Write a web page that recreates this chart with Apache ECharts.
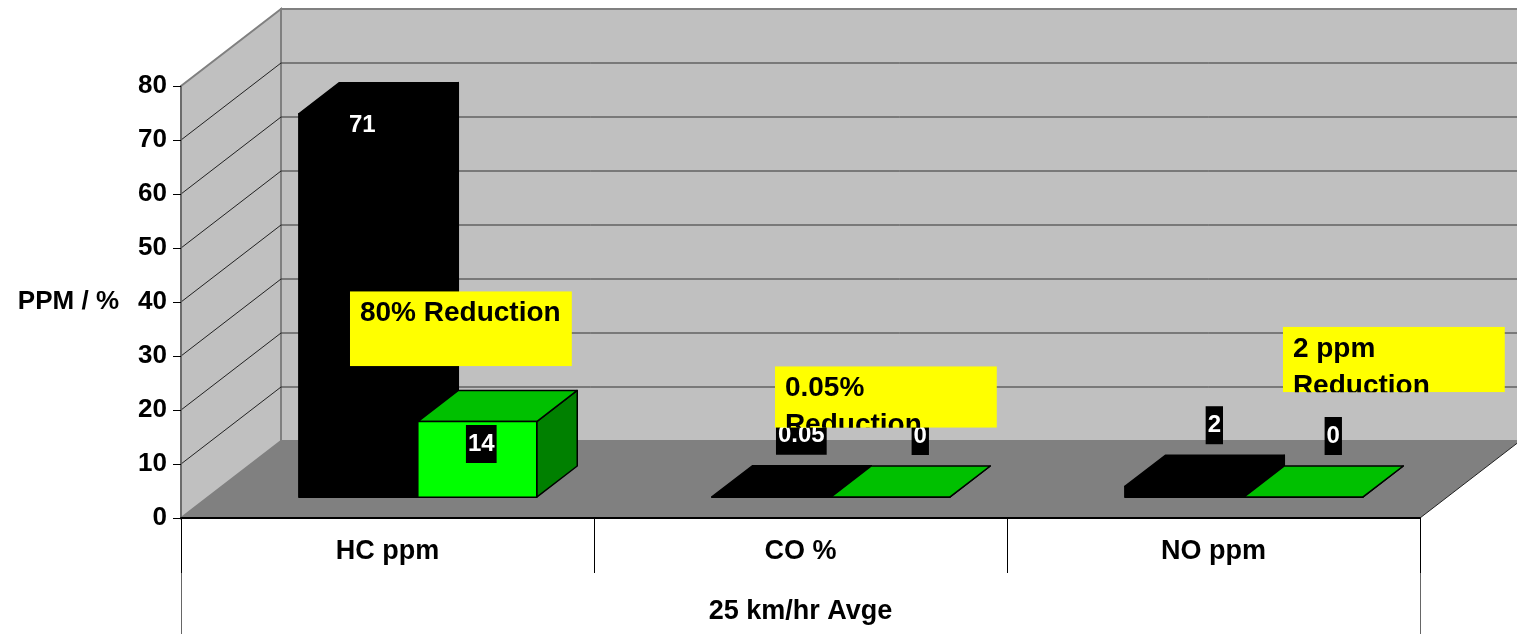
<!DOCTYPE html>
<html>
<head>
<meta charset="utf-8">
<script src="https://cdn.jsdelivr.net/npm/echarts@6/dist/echarts.min.js"></script>
<style>
html, body { margin: 0; padding: 0; background: #fff; }
#chart { width: 1517px; height: 634px; }
</style>
</head>
<body>
<div id="chart"></div>
<script>
var categories = ['HC ppm', 'CO %', 'NO ppm'];
var groupLabel = ['25 km/hr Avge'];
var beforeValues = [71, 0.05, 2];
var afterValues = [14, 0, 0];
var yTicks = [0, 10, 20, 30, 40, 50, 60, 70, 80];
var noteTexts = ['80% Reduction', '0.05% Reduction', '2 ppm Reduction'];
var noteTop = [42, 28.1, 35.4];
var noteBottom = [28.1, 16.7, 23.3];

var FONT = 'Arial, "Liberation Sans", sans-serif';
// oblique 3D look
var DX = 100, DY = 77;
var Z0 = 0.27, Z1 = 0.675;
var BAR_START = 0.22, BAR_W = 0.288;
var NOTE_X = [0.409, 0.438, 0.668], NOTE_W = 0.5375;

var chart = echarts.init(document.getElementById('chart'));

function frameItem(params, api) {
    var cs = params.coordSys;
    var x0 = cs.x, x1 = cs.x + cs.width;
    var yb = api.coord([0, yTicks[0]])[1];
    var yt = api.coord([0, yTicks[yTicks.length - 1]])[1];
    var kids = [
        {type: 'polygon', shape: {points: [[x0 + DX, yt - DY], [x1 + DX, yt - DY], [x1 + DX, yb - DY], [x0 + DX, yb - DY]]},
            style: {fill: '#c0c0c0', stroke: '#808080', lineWidth: 2}},
        {type: 'polygon', shape: {points: [[x0, yt], [x0 + DX, yt - DY], [x0 + DX, yb - DY], [x0, yb]]},
            style: {fill: '#c0c0c0', stroke: '#808080', lineWidth: 2}},
        {type: 'polygon', shape: {points: [[x0, yb], [x0 + DX, yb - DY], [x1 + DX, yb - DY], [x1, yb]]},
            style: {fill: '#808080'}},
        {type: 'line', shape: {x1: x1, y1: yb, x2: x1 + DX, y2: yb - DY},
            style: {stroke: '#222', lineWidth: 1}}
    ];
    for (var i = 1; i < yTicks.length - 1; i++) {
        var y = api.coord([0, yTicks[i]])[1];
        kids.push({type: 'line', shape: {x1: x0 + DX, y1: y - DY, x2: x1 + DX, y2: y - DY}, style: {stroke: '#333', lineWidth: 1}});
        kids.push({type: 'line', shape: {x1: x0, y1: y, x2: x0 + DX, y2: y - DY}, style: {stroke: '#222', lineWidth: 1}});
    }
    return {type: 'group', children: kids};
}

function barItem(idx, values, colors) {
    return function (params, api) {
        var cat = api.value(0), val = api.value(1);
        var band = api.size([1, 0])[0];
        var base = api.coord([cat, 0]);
        var top = api.coord([cat, val]);
        var l = base[0] - band / 2 + band * (BAR_START + idx * BAR_W);
        var r = l + band * BAR_W;
        var fx = DX * Z0, fy = DY * Z0, bx = DX * Z1, by = DY * Z1;
        var yb = base[1], yt = top[1];
        var line = {stroke: colors.stroke, lineWidth: 1.5, lineJoin: 'round'};
        var kids = [
            {type: 'polygon', shape: {points: [[r + fx, yt - fy], [r + bx, yt - by], [r + bx, yb - by], [r + fx, yb - fy]]},
                style: Object.assign({fill: colors.side}, line)},
            {type: 'polygon', shape: {points: [[l + fx, yt - fy], [r + fx, yt - fy], [r + bx, yt - by], [l + bx, yt - by]]},
                style: Object.assign({fill: colors.top}, line)},
            {type: 'rect', shape: {x: l + fx, y: yt - fy, width: r - l, height: yb - yt},
                style: Object.assign({fill: colors.front}, line)}
        ];
        var h = yb - yt;
        var cx = (l + r) / 2 + fx, cy;
        if (h > 60) {
            // label sits inside the bar, near its top
            cx += 4;
            cy = yt - fy + 25 - 0.035 * h;
        } else {
            cx += 30;
            cy = yt - by - 30;
        }
        kids.push({type: 'text', x: cx, y: cy, z2: 10,
            style: {text: String(values[params.dataIndex]), fill: '#fff', font: 'bold 24px ' + FONT,
                align: 'center', verticalAlign: 'middle', textAlign: 'center', textVerticalAlign: 'middle',
                backgroundColor: '#000', padding: [7, 2, 7, 2]}});
        return {type: 'group', children: kids};
    };
}

function noteItem(params, api) {
    var i = params.dataIndex;
    var band = api.size([1, 0])[0];
    var pt = api.coord([api.value(0), api.value(1)]);
    var pb = api.coord([api.value(0), api.value(2)]);
    var x = pt[0] - band / 2 + band * NOTE_X[i];
    var w = band * NOTE_W, h = pb[1] - pt[1];
    return {
        type: 'group',
        clipPath: {type: 'rect', shape: {x: x, y: pt[1], width: w, height: h}},
        children: [
            {type: 'rect', shape: {x: x, y: pt[1], width: w, height: h}, style: {fill: '#ffff00'}},
            {type: 'text', x: x + 10, y: pt[1] + 4,
                style: {text: noteTexts[i], width: w - 16, overflow: 'break', lineHeight: 37,
                    font: 'bold 28px ' + FONT, fill: '#000', verticalAlign: 'top', textVerticalAlign: 'top'}}
        ]
    };
}

var option = {
    animation: false,
    grid: {left: 181, right: 97, top: 86, bottom: 116},
    xAxis: [
        {
            type: 'category',
            data: categories,
            axisLine: {lineStyle: {color: '#000', width: 2}},
            axisTick: {show: true, length: 55, lineStyle: {color: '#000', width: 1}},
            axisLabel: {margin: 20, color: '#000', fontSize: 27, fontWeight: 'bold', fontFamily: FONT},
            z: 5
        },
        {
            type: 'category',
            data: groupLabel,
            position: 'bottom',
            axisLine: {show: false},
            axisTick: {show: true, length: 116, lineStyle: {color: '#666', width: 1}},
            axisLabel: {margin: 80, color: '#000', fontSize: 27, fontWeight: 'bold', fontFamily: FONT}
        }
    ],
    yAxis: {
        type: 'value',
        min: 0,
        max: 80,
        interval: 10,
        name: 'PPM / %',
        nameLocation: 'middle',
        nameRotate: 0,
        nameGap: 62,
        nameTextStyle: {color: '#000', fontSize: 26, fontWeight: 'bold', fontFamily: FONT},
        axisLine: {show: true, lineStyle: {color: '#666', width: 1.5}},
        axisTick: {show: true, length: 8, lineStyle: {color: '#000'}},
        axisLabel: {margin: 14, color: '#000', fontSize: 26, fontWeight: 'bold', fontFamily: FONT},
        splitLine: {show: false},
        z: 5
    },
    series: [
        {
            name: 'frame',
            type: 'custom',
            z: -1,
            silent: true,
            renderItem: frameItem,
            data: [[0, 0]]
        },
        {
            name: 'Before',
            type: 'custom',
            z: 2,
            renderItem: barItem(0, beforeValues, {front: '#000', top: '#000', side: '#000', stroke: '#000'}),
            data: beforeValues.map(function (v, i) { return [i, v]; })
        },
        {
            name: 'After',
            type: 'custom',
            z: 3,
            renderItem: barItem(1, afterValues, {front: '#00ff00', top: '#00c000', side: '#008000', stroke: '#000'}),
            data: afterValues.map(function (v, i) { return [i, v]; })
        },
        {
            name: 'notes',
            type: 'custom',
            z: 6,
            renderItem: noteItem,
            data: noteTexts.map(function (t, i) { return [i, noteTop[i], noteBottom[i]]; })
        }
    ]
};

chart.setOption(option);
</script>
</body>
</html>
